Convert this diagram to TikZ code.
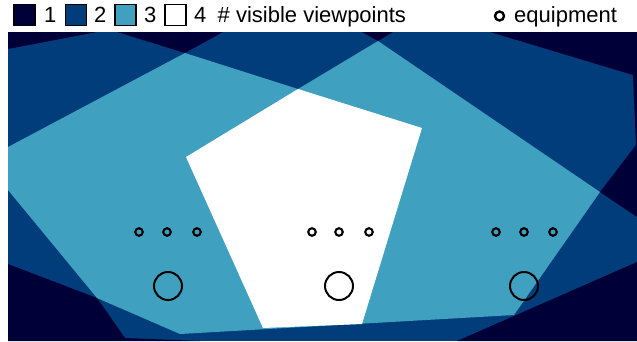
\documentclass[tikz,border=0pt]{standalone}
\usepackage{fontspec}
\setmainfont{Liberation Sans}
\definecolor{lvA}{HTML}{000038}
\definecolor{lvB}{HTML}{003D7A}
\definecolor{lvC}{HTML}{40A0C0}
\begin{document}
\begin{tikzpicture}[x=1pt,y=-1pt,
  legsq/.style={draw=black,line width=1.6pt,minimum size=21pt,inner sep=0pt},
  legtxt/.style={anchor=base west,inner sep=0pt,font=\fontsize{22}{26}\selectfont},
  eqsmall/.style={circle,draw=black,line width=2.1pt,minimum size=7.5pt,inner sep=0pt},
  eqleg/.style={circle,draw=black,line width=2.4pt,minimum size=9pt,inner sep=0pt},
  eqbig/.style={circle,draw=black,line width=2pt,minimum size=28pt,inner sep=0pt}]
\useasboundingbox (0,0) rectangle (637,341);
\fill[white] (0,0) rectangle (637,341);
% level 2 base over map
\fill[lvB] (8,32) rectangle (637,341);
% level 1 (dark) regions
\fill[lvA] (8,32) -- (97,32) -- (8,49) -- cycle;
\fill[lvA] (117,32) -- (223,32) -- (185,53) -- cycle;
\fill[lvA] (362,32) -- (393,32) -- (378,41) -- cycle;
\fill[lvA] (490,32) -- (637,32) -- (637,217) -- (600,192) -- (636,145) -- (633,75) -- cycle;
\fill[lvA] (637,262) -- (457,341) -- (637,341) -- cycle;
\fill[lvA] (8,264) -- (97,298) -- (125,338) -- (200,341) -- (8,341) -- cycle;
% level 3
\fill[lvC] (8,147) -- (185,53) -- (298,89) -- (378,41) -- (600,192) -- (514,315) -- (180,334) -- (97,298) -- (8,190) -- cycle;
% level 4
\fill[white] (186,157) -- (298,89) -- (422,128) -- (362,324) -- (263,328) -- cycle;
% legend
\node[legsq,fill=lvA] (s1) at (24.5,15) {};
\node[legtxt] (t1) at (44,22) {1};
\node[legsq,fill=lvB] (s2) at (76,15) {};
\node[legtxt] (t2) at (94,22) {2};
\node[legsq,fill=lvC] (s3) at (125.5,15) {};
\node[legtxt] (t3) at (144,22) {3};
\node[legsq,fill=white] (s4) at (175.5,15) {};
\node[legtxt] (t4) at (194,22) {4};
\node[legtxt] (tv) at (217.5,22) {\# visible viewpoints};
\node[eqleg] (le) at (499.5,16) {};
\node[legtxt] (te) at (514,22) {equipment};
% equipment
\node[eqsmall] (a1) at (139,232) {};
\node[eqsmall] (a2) at (167,232) {};
\node[eqsmall] (a3) at (197,232) {};
\node[eqsmall] (b1) at (312,232) {};
\node[eqsmall] (b2) at (339,232) {};
\node[eqsmall] (b3) at (369,232) {};
\node[eqsmall] (c1) at (496,232) {};
\node[eqsmall] (c2) at (524,232) {};
\node[eqsmall] (c3) at (553,232) {};
\node[eqbig] (A) at (168,286) {};
\node[eqbig] (B) at (339,286) {};
\node[eqbig] (C) at (524,286) {};
\end{tikzpicture}
\end{document}
